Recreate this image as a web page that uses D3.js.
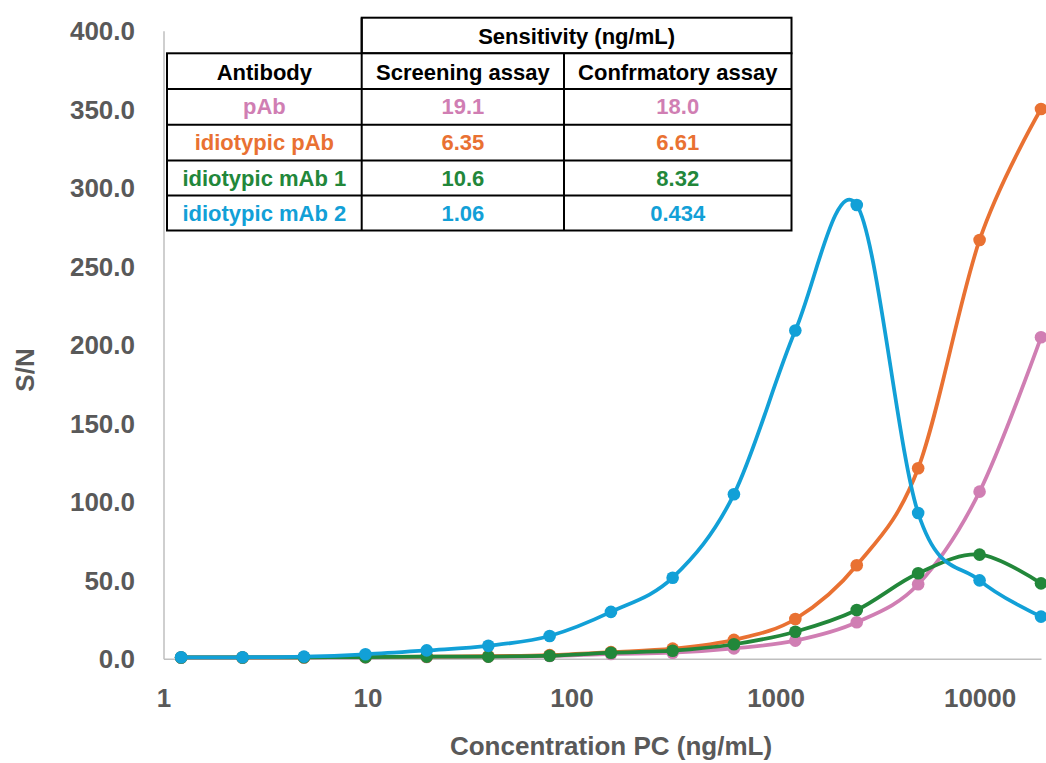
<!DOCTYPE html>
<html>
<head>
<meta charset="utf-8">
<script src="https://cdn.jsdelivr.net/npm/d3@7"></script>
<style>
  html, body { margin: 0; padding: 0; background: #ffffff; }
  svg { display: block; font-family: "Liberation Sans", Arial, sans-serif; }
</style>
</head>
<body>
<svg id="chart" width="1046" height="763"></svg>
<script>
// Concentration of positive control (ng/mL), two-fold dilution series
const concentrations = [1.22, 2.44, 4.88, 9.77, 19.5, 39.1, 78.1, 156, 313, 625, 1250, 2500, 5000, 10000, 20000];

// Signal-to-noise ratio for each antibody
const pAb          = [0.7, 0.7, 0.8, 0.9, 1.1, 1.3, 1.7, 3.0, 3.8, 6.6, 11.5, 23.2, 47.4, 106.4, 204.7];
const idiotypicPAb = [0.8, 0.8, 0.9, 1.1, 1.4, 1.6, 2.3, 4.2, 6.4, 12.0, 25.3, 59.5, 121.3, 266.7, 350.1];
const idiotypicMAb1 = [0.8, 0.8, 0.9, 1.0, 1.3, 1.3, 1.9, 3.8, 5.1, 9.2, 17.2, 31.0, 54.4, 66.3, 48.0];
const idiotypicMAb2 = [0.9, 0.9, 1.3, 2.8, 5.3, 8.2, 14.5, 29.8, 51.6, 104.7, 209.0, 289.0, 92.8, 49.9, 26.8];

const seriesNames  = ["pAb", "idiotypic pAb", "idiotypic mAb 1", "idiotypic mAb 2"];
const seriesColors = ["#D07EB3", "#E97132", "#22873A", "#12A0D7"];

// Sensitivity table
const tableHeader   = ["Antibody", "Screening assay", "Confrmatory assay"];
const tableGroup    = "Sensitivity (ng/mL)";
const screening     = ["19.1", "6.35", "10.6", "1.06"];
const confirmatory  = ["18.0", "6.61", "8.32", "0.434"];

const xTicks = [1, 10, 100, 1000, 10000];
const yTicks = [0, 50, 100, 150, 200, 250, 300, 350, 400];

const svg = d3.select("#chart");
const plot = { left: 163.5, right: 1041, top: 30.7, bottom: 658.7 };
const axisGray = "#595959";

const x = d3.scaleLog().domain([1, 20000]).range([plot.left, plot.right]);
const y = d3.scaleLinear().domain([0, 400]).range([plot.bottom, plot.top]);

// Y axis
const yAxis = svg.append("g")
  .attr("transform", `translate(${plot.left},0)`)
  .call(d3.axisLeft(y).tickValues(yTicks).tickSize(0).tickSizeOuter(0).tickFormat(d3.format(".1f")));
yAxis.select(".domain").attr("stroke", "#BFBFBF").attr("stroke-width", 1.5);
yAxis.selectAll("text")
  .attr("x", -28.5).attr("dy", "0.35em")
  .attr("fill", axisGray).attr("font-size", 26).attr("font-weight", "bold")
  .attr("font-family", "Liberation Sans, Arial, sans-serif");

// X axis
const xAxis = svg.append("g")
  .attr("transform", `translate(0,${plot.bottom})`)
  .call(d3.axisBottom(x).tickValues(xTicks).tickSize(0).tickSizeOuter(0).tickFormat(d3.format("d")));
xAxis.select(".domain").attr("stroke", "#BFBFBF").attr("stroke-width", 1.5);
xAxis.selectAll("text")
  .attr("y", 48.5).attr("dy", 0)
  .attr("fill", axisGray).attr("font-size", 26).attr("font-weight", "bold")
  .attr("font-family", "Liberation Sans, Arial, sans-serif");

// Axis titles
svg.append("text")
  .attr("x", 611).attr("y", 755)
  .attr("text-anchor", "middle")
  .attr("fill", axisGray).attr("font-size", 26).attr("font-weight", "bold")
  .text("Concentration PC (ng/mL)");

svg.append("text")
  .attr("transform", "translate(34,370) rotate(-90)")
  .attr("text-anchor", "middle")
  .attr("fill", axisGray).attr("font-size", 26).attr("font-weight", "bold")
  .text("S/N");

// Series
const allSeries = [pAb, idiotypicPAb, idiotypicMAb1, idiotypicMAb2];
const line = d3.line()
  .x(d => x(d[0]))
  .y(d => y(d[1]))
  .curve(d3.curveCatmullRom.alpha(0));

allSeries.forEach((vals, i) => {
  const pts = concentrations.map((c, k) => [c, vals[k]]);
  const g = svg.append("g").attr("class", "series").attr("data-name", seriesNames[i]);
  g.append("path")
    .datum(pts)
    .attr("d", line)
    .attr("fill", "none")
    .attr("stroke", seriesColors[i])
    .attr("stroke-width", 3.75)
    .attr("stroke-linejoin", "round")
    .attr("stroke-linecap", "round");
  g.selectAll("circle")
    .data(pts)
    .join("circle")
    .attr("cx", d => x(d[0]))
    .attr("cy", d => y(d[1]))
    .attr("r", 6.3)
    .attr("fill", seriesColors[i]);
});

// Sensitivity table
const colX = [167, 361.7, 564, 791.5];
const rowY = [17.7, 53.3, 89, 124.7, 160.5, 195.5, 230.5];
const table = svg.append("g").attr("class", "table");
const stroke = { stroke: "#000", w: 2 };

table.append("rect")
  .attr("x", colX[1]).attr("y", rowY[0])
  .attr("width", colX[3] - colX[1]).attr("height", rowY[1] - rowY[0])
  .attr("fill", "#fff").attr("stroke", stroke.stroke).attr("stroke-width", stroke.w);
table.append("rect")
  .attr("x", colX[0]).attr("y", rowY[1])
  .attr("width", colX[3] - colX[0]).attr("height", rowY[6] - rowY[1])
  .attr("fill", "#fff").attr("stroke", stroke.stroke).attr("stroke-width", stroke.w);
for (let r = 2; r < 6; r++) {
  table.append("line")
    .attr("x1", colX[0]).attr("x2", colX[3])
    .attr("y1", rowY[r]).attr("y2", rowY[r])
    .attr("stroke", stroke.stroke).attr("stroke-width", stroke.w);
}
[1, 2].forEach(c => {
  table.append("line")
    .attr("x1", colX[c]).attr("x2", colX[c])
    .attr("y1", c === 1 ? rowY[0] : rowY[1]).attr("y2", rowY[6])
    .attr("stroke", stroke.stroke).attr("stroke-width", stroke.w);
});

const cellCx = [0, 1, 2].map(c => (colX[c] + colX[c + 1]) / 2);
const cellText = (cx, baseline, txt, color) =>
  table.append("text")
    .attr("x", cx).attr("y", baseline)
    .attr("text-anchor", "middle")
    .attr("font-size", 22).attr("font-weight", "bold")
    .attr("fill", color)
    .text(txt);

cellText((colX[1] + colX[3]) / 2, rowY[0] + 26.3, tableGroup, "#000");
tableHeader.forEach((h, c) => cellText(cellCx[c], rowY[1] + 26.7, h, "#000"));
seriesNames.forEach((name, r) => {
  const base = rowY[r + 2] + 25.4;
  cellText(cellCx[0], base, name, seriesColors[r]);
  cellText(cellCx[1], base, screening[r], seriesColors[r]);
  cellText(cellCx[2], base, confirmatory[r], seriesColors[r]);
});
</script>
</body>
</html>
